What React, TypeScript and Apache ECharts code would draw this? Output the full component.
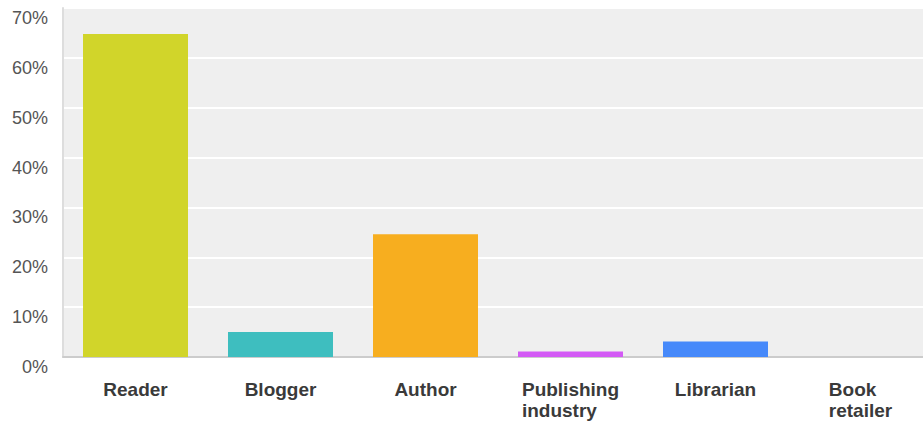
import React, { useEffect, useRef } from "react";
import * as echarts from "echarts";

const categories = ["Reader", "Blogger", "Author", "Publishing\nindustry", "Librarian", "Book\nretailer"];
const values = [64.8, 5.0, 24.6, 1.1, 3.1, 0];
const barColors = ["#d1d52a", "#3ebebf", "#f7ae1f", "#d35af5", "#4689fa", "#999999"];
const yTicks = { min: 0, max: 70, interval: 10 };

export default function App() {
  const ref = useRef<HTMLDivElement>(null);
  useEffect(() => {
    if (!ref.current) return;
    const chart = echarts.init(ref.current, undefined, { renderer: "svg" });
    chart.setOption({
      animation: false,
      backgroundColor: "#ffffff",
      grid: {
        left: 63,
        top: 8,
        bottom: 66,
        width: 870,
        show: true,
        backgroundColor: "#efefef",
        borderWidth: 0,
      },
      xAxis: {
        type: "category",
        data: categories,
        axisLine: { show: true, lineStyle: { color: "#cccccc", width: 2 } },
        axisTick: { show: false },
        axisLabel: {
          interval: 0,
          margin: 22,
          fontFamily: "Liberation Sans, Arial, sans-serif",
          fontSize: 19,
          fontWeight: "bold",
          color: "#3a3a3a",
          lineHeight: 21,
          formatter: (v: string) => v.split("\n").map((s) => `{a|${s}}`).join("\n"),
          rich: {
            a: {
              align: "left",
              fontFamily: "Liberation Sans, Arial, sans-serif",
              fontSize: 19,
              fontWeight: "bold",
              color: "#3a3a3a",
              lineHeight: 21,
            },
          },
        },
      },
      yAxis: {
        type: "value",
        min: yTicks.min,
        max: yTicks.max,
        interval: yTicks.interval,
        axisLine: { show: true, lineStyle: { color: "#dddddd", width: 2 } },
        axisTick: { show: false },
        splitLine: { show: true, lineStyle: { color: "#ffffff", width: 2 } },
        axisLabel: {
          margin: 15,
          formatter: "{value}%",
          fontFamily: "Liberation Sans, Arial, sans-serif",
          fontSize: 18,
          color: "#555555",
          verticalAlign: "top",
          padding: [1, 0, 0, 0],
        },
      },
      series: [
        {
          type: "bar",
          barWidth: 105,
          data: values.map((v, i) => ({ value: v, itemStyle: { color: barColors[i] } })),
        },
      ],
    });
    return () => chart.dispose();
  }, []);
  return (
    <div style={{ position: "fixed", left: 0, top: 0, width: 923, height: 423, overflow: "hidden" }}>
      <div ref={ref} style={{ width: 945, height: 423 }} />
    </div>
  );
}
